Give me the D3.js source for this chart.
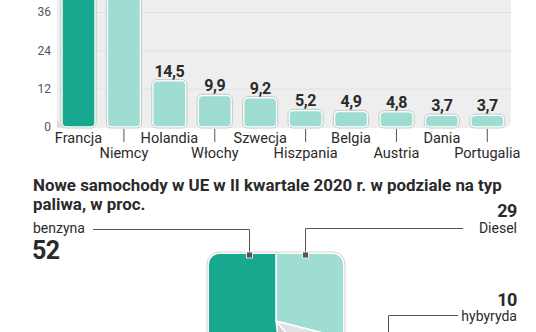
<!DOCTYPE html>
<html><head><meta charset="utf-8">
<script src="https://cdn.jsdelivr.net/npm/d3@7"></script>
<style>
html,body{margin:0;padding:0;background:#fff;}
svg{display:block;font-family:Roboto,"Noto Sans",sans-serif;}
</style></head>
<body>
<svg id="c" width="536" height="332"></svg>
<script>
// ---- data ----
const countries = ["Francja","Niemcy","Holandia","Włochy","Szwecja","Hiszpania","Belgia","Austria","Dania","Portugalia"];
const values = [47.6, 46.2, 14.5, 9.9, 9.2, 5.2, 4.9, 4.8, 3.7, 3.7];
const valueLabels = ["47,6","46,2","14,5","9,9","9,2","5,2","4,9","4,8","3,7","3,7"];
const yTicks = [0, 12, 24, 36];
const fuelTypes = ["benzyna","Diesel","hybyryda","inne"];
const fuelShares = [52, 29, 10, 9];
const titleLines = ["Nowe samochody w UE w II kwartale 2020 r. w podziale na typ","paliwa, w proc."];

const svg = d3.select("#c");
const dark = "#18a88f", light = "#9fdcd2", txt = "#2a2a2a";

// ---- bar chart ----
const x = d3.scaleBand().domain(countries).range([55.8, 510]).paddingInner(0.27).paddingOuter(0.135);
const y = d3.scaleLinear().domain([0, 36]).range([127, 12]);

// panel
svg.append("path")
  .attr("d", "M57,-5 H511 V120 Q511,128 503,128 H57 Z")
  .attr("fill", "#eeeeee");
svg.append("path").attr("d","M57,120 L62,127 L57,128 Z").attr("fill","#dadada");
// gridlines
svg.append("g").selectAll("line").data(yTicks.filter(d=>d>0)).join("line")
  .attr("x1", 57).attr("x2", 511)
  .attr("y1", d=>y(d)+0.5).attr("y2", d=>y(d)+0.5)
  .attr("stroke", "#e1e1e1").attr("stroke-width", 1);
// y axis labels
const yAxis = d3.axisLeft(y).tickValues(yTicks).tickSize(0).tickPadding(0);
const ya = svg.append("g").attr("transform","translate(51,0)").call(yAxis);
ya.select(".domain").remove();
ya.selectAll("text").attr("font-size", 12).attr("fill", "#555").attr("font-family","Roboto,sans-serif");

// bars
const bars = svg.append("g");
countries.forEach((c, i) => {
  const bx = x(c), bw = x.bandwidth(), top = y(values[i]), h = y(0) - top;
  bars.append("rect").attr("x", bx-1).attr("y", top-1).attr("width", bw+2).attr("height", h+2)
    .attr("rx", 5).attr("fill", "#fff").attr("stroke", "#b8c6c3").attr("stroke-width", 0.9);
  bars.append("rect").attr("x", bx+0.8).attr("y", top+0.8).attr("width", bw-1.6).attr("height", h-1.6)
    .attr("rx", 3.5).attr("fill", i === 0 ? dark : light);
  if (top - 4 > 12) {
    bars.append("text").attr("x", bx + bw/2).attr("y", top - 4)
      .attr("text-anchor", "middle").attr("font-size", 16).attr("font-weight", 700)
      .attr("fill", txt).attr("letter-spacing", -0.4).text(valueLabels[i]);
  }
  const row2 = i % 2 === 1;
  if (row2) {
    bars.append("line").attr("x1", bx + bw/2).attr("x2", bx + bw/2).attr("y1", 129).attr("y2", 142)
      .attr("stroke", "#555").attr("stroke-width", 1);
  }
  bars.append("text").attr("x", bx + bw/2).attr("y", row2 ? 158 : 143)
    .attr("text-anchor", "middle").attr("font-size", 14.5).attr("fill", txt).text(c);
});

// ---- title ----
const tg = svg.append("g");
const t1 = tg.append("text").attr("x", 33).attr("y", 191).attr("font-size", 16).attr("font-weight", 700)
  .attr("fill", txt).text(titleLines[0]);
const w = t1.node().getComputedTextLength();
const fs = Math.min(17.2, 16 * 469 / w);
t1.attr("font-size", fs);
tg.append("text").attr("x", 33).attr("y", 210).attr("font-size", fs).attr("font-weight", 700)
  .attr("fill", txt).text(titleLines[1]);

// ---- square pie ----
const sq = {x: 209, y: 254, s: 134, r: 10};
const cx = sq.x + sq.s/2, cy = sq.y + sq.s/2;
const defs = svg.append("defs");
defs.append("clipPath").attr("id", "sqclip").append("rect")
  .attr("x", sq.x).attr("y", sq.y).attr("width", sq.s).attr("height", sq.s).attr("rx", sq.r);
svg.append("rect").attr("x", sq.x-2).attr("y", sq.y-2).attr("width", sq.s+4).attr("height", sq.s+4)
  .attr("rx", sq.r+2).attr("fill", "#fff").attr("stroke", "#d2d2d2").attr("stroke-width", 1);
const pieColors = [dark, light, "#dfe3e4", "#c9d0d1"];
const pie = d3.pie().sort(null).value(d=>d).startAngle(0).endAngle(2*Math.PI);
const arcs = pie([fuelShares[1], fuelShares[2], fuelShares[3], fuelShares[0]]);
const arcColors = [pieColors[1], pieColors[2], pieColors[3], pieColors[0]];
const arc = d3.arc().innerRadius(0).outerRadius(140);
svg.append("g").attr("clip-path", "url(#sqclip)")
  .append("g").attr("transform", `translate(${cx},${cy})`)
  .selectAll("path").data(arcs).join("path")
  .attr("d", arc).attr("fill", (d,i)=>arcColors[i])
  .attr("stroke", "#fff").attr("stroke-width", 1.5);

// ---- leader lines + labels ----
const lead = svg.append("g").attr("fill", "none").attr("stroke", "#555").attr("stroke-width", 1);
lead.append("path").attr("d", "M93,229.5 H249.5 V255");
lead.append("path").attr("d", "M463,228.5 H305.5 V255");
lead.append("path").attr("d", "M458,315.5 H388.5 V340");
[[249.5,255],[305.5,255]].forEach(p => {
  svg.append("rect").attr("x", p[0]-3).attr("y", p[1]-3).attr("width", 6).attr("height", 6)
    .attr("fill", "#555").attr("stroke", "#fff").attr("stroke-width", 0.8);
});

const lab = svg.append("g").attr("fill", txt);
lab.append("text").attr("x", 33).attr("y", 233).attr("font-size", 14).text(fuelTypes[0]);
lab.append("text").attr("x", 32).attr("y", 259).attr("font-size", 25).attr("font-weight", 700).attr("letter-spacing", -0.5).text(fuelShares[0]);
lab.append("text").attr("x", 517).attr("y", 217).attr("text-anchor", "end").attr("font-size", 18).attr("font-weight", 700).attr("letter-spacing", -0.4).text(fuelShares[1]);
lab.append("text").attr("x", 517).attr("y", 233).attr("text-anchor", "end").attr("font-size", 14).text(fuelTypes[1]);
lab.append("text").attr("x", 517).attr("y", 306).attr("text-anchor", "end").attr("font-size", 18).attr("font-weight", 700).attr("letter-spacing", -0.4).text(fuelShares[2]);
lab.append("text").attr("x", 517).attr("y", 321).attr("text-anchor", "end").attr("font-size", 14).text(fuelTypes[2]);
</script>
</body></html>
